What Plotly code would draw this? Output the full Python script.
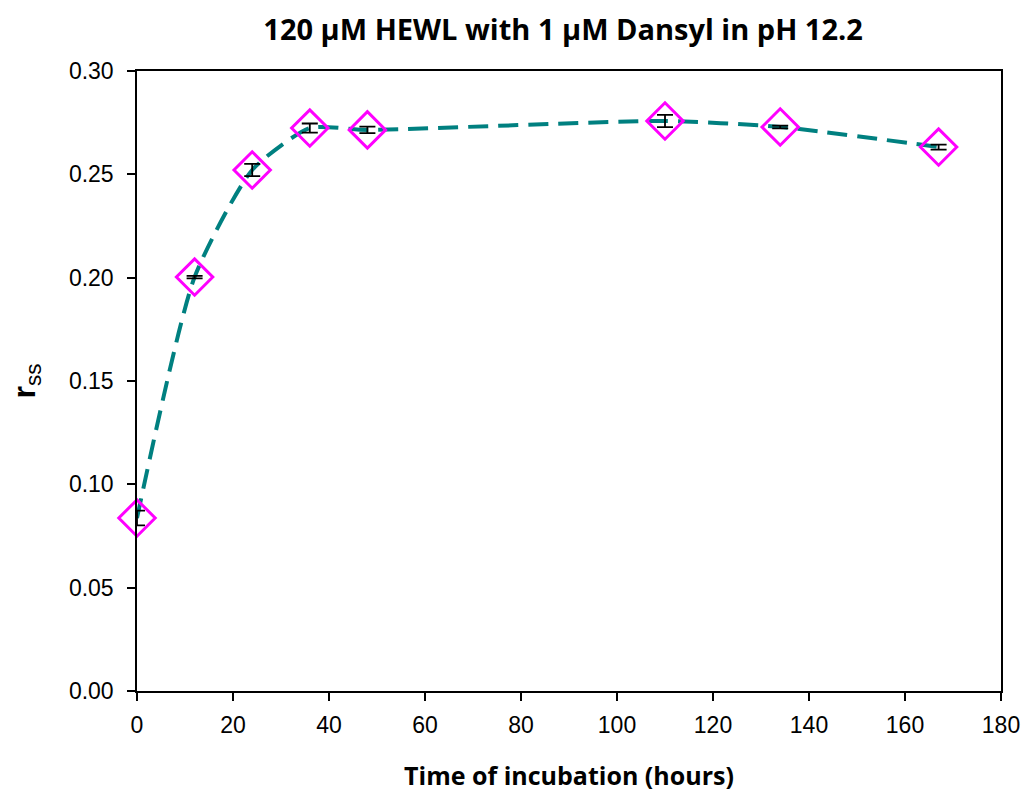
import plotly.graph_objects as go

hours = [0, 12, 24, 36, 48, 110, 134, 167]
rss = [0.0837, 0.2003, 0.2521, 0.2724, 0.2715, 0.2758, 0.2729, 0.2632]
rss_err = [0.0036, 0.0006, 0.0030, 0.0022, 0.0016, 0.0030, 0.0007, 0.0012]

x_ticks = [0, 20, 40, 60, 80, 100, 120, 140, 160, 180]
y_ticks = [0.00, 0.05, 0.10, 0.15, 0.20, 0.25, 0.30]

fig = go.Figure()
fig.add_trace(go.Scatter(
    x=hours, y=rss, mode="lines",
    line=dict(color="#008080", width=4, dash="20px,10px", shape="spline", smoothing=0.6),
    showlegend=False, hoverinfo="skip", cliponaxis=False))
fig.add_trace(go.Scatter(
    x=hours, y=rss, mode="markers",
    marker=dict(symbol="diamond-open", size=28, color="#ff00ff", line=dict(width=3, color="#ff00ff")),
    error_y=dict(type="data", array=rss_err, visible=True, color="black", thickness=1.8, width=8),
    showlegend=False, cliponaxis=False))

fig.update_layout(
    width=1022, height=793,
    paper_bgcolor="white", plot_bgcolor="white",
    margin=dict(l=137, r=21, t=71, b=102, autoexpand=False),
    title=dict(text="<b>120 \u03bcM HEWL with 1 \u03bcM Dansyl in pH 12.2</b>",
               x=0.551, xanchor="center", y=0.962, yanchor="middle",
               font=dict(family="Open Sans", size=29, color="black")),
    font=dict(family="Liberation Sans, Arial", size=23, color="black"),
)
fig.update_xaxes(
    range=[0, 180], tickvals=x_ticks, ticktext=[str(v) for v in x_ticks],
    showgrid=False, zeroline=False, showline=True, linecolor="black", linewidth=1.5,
    mirror=True, ticks="outside", ticklen=8, tickwidth=1.5, tickcolor="black",
    tickfont=dict(size=23), automargin=False, ticklabelstandoff=5,
    title=dict(text="<b>Time of incubation (hours)</b>", standoff=30,
               font=dict(family="Open Sans", size=25)))
fig.update_yaxes(
    range=[0, 0.30], tickvals=y_ticks, ticktext=["%.2f" % v for v in y_ticks],
    showgrid=False, zeroline=False, showline=True, linecolor="black", linewidth=1.5,
    mirror=True, ticks="outside", ticklen=8, tickwidth=1.5, tickcolor="black",
    tickfont=dict(size=23), automargin=False, ticklabelstandoff=9,
    title=dict(text="<b>r</b><sub>ss</sub>", standoff=24,
               font=dict(family="Liberation Sans, Arial", size=32)))

fig.write_html("out.html", config={"displayModeBar": False},
               post_script="document.body.style.margin='0';")
